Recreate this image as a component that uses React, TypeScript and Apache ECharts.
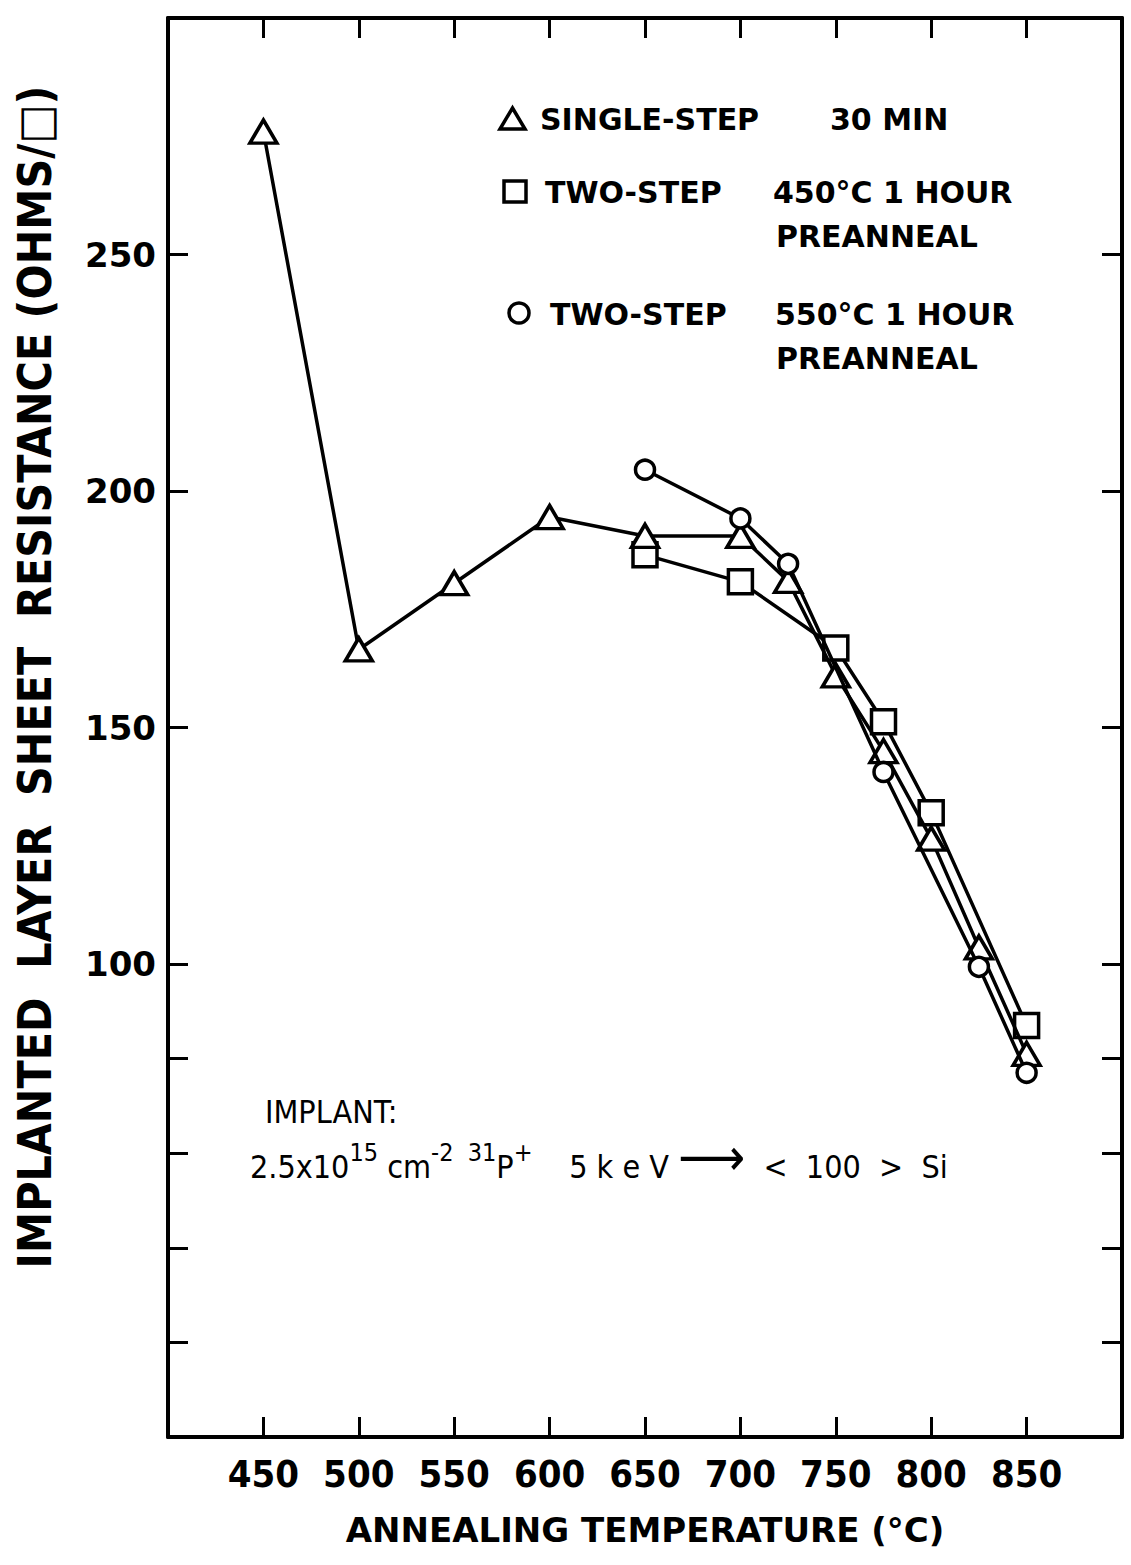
import React, { useEffect, useRef } from "react";
import * as echarts from "echarts";

// Annealing temperatures (°C) and implanted layer sheet resistance (ohms/square)
const singleStepTemps = [450, 500, 550, 600, 650, 700, 725, 750, 775, 800, 825, 850];
const singleStepOhms = [276, 166.5, 180.5, 194.5, 190.5, 190.5, 181, 161, 145, 126.5, 103.5, 81];

const preanneal450Temps = [650, 700, 750, 775, 800, 850];
const preanneal450Ohms = [186.5, 180.8, 166.8, 151.2, 132, 87];

const preanneal550Temps = [650, 700, 725, 775, 825, 850];
const preanneal550Ohms = [204.5, 194.2, 184.6, 140.6, 99.4, 77];

// Axis ticks
const yTickValues = [20, 40, 60, 80, 100, 150, 200, 250];
const yLabelValues = [100, 150, 200, 250];

const INK = "#000";
const FONT = '"DejaVu Sans", sans-serif';
const FONT_COND = '"DejaVu Sans Condensed", "DejaVu Sans", sans-serif';

const pairs = (xs: number[], ys: number[]) => xs.map((x, i) => [x, ys[i]]);

const markerStyle = { color: "#fff", borderColor: INK, borderWidth: 3.5 };
const lineStyle = { color: INK, width: 3.5 };

const frameAxisLine = { onZero: false, lineStyle: { color: INK, width: 4 } };
const frameTick = { inside: true, length: 20, lineStyle: { color: INK, width: 3 } };

export default function App() {
  const ref = useRef<HTMLDivElement>(null);

  useEffect(() => {
    document.body.style.margin = "0";
    if (!ref.current) return;
    const chart = echarts.init(ref.current, null, { renderer: "svg" });

    const legendText = (text: string, x: number, y: number) => ({
      type: "text",
      x,
      y,
      style: {
        text,
        fill: INK,
        font: `bold 30px ${FONT}`,
        align: "left",
        verticalAlign: "middle",
      },
    });

    const mainTok = {
      fontFamily: FONT_COND,
      fontSize: 32,
      lineHeight: 34,
      verticalAlign: "bottom",
      fill: INK,
    };
    const supTok = {
      fontFamily: FONT_COND,
      fontSize: 25,
      lineHeight: 25,
      padding: [0, 0, 18, 0],
      verticalAlign: "bottom",
      fill: INK,
    };

    chart.setOption({
      animation: false,
      backgroundColor: "#fff",
      grid: { left: 168, right: 9, top: 18, bottom: 128, containLabel: false },
      xAxis: [
        {
          type: "value",
          position: "bottom",
          min: 400,
          max: 900,
          interval: 50,
          name: "ANNEALING TEMPERATURE (°C)",
          nameLocation: "middle",
          nameGap: 76,
          nameTextStyle: { color: INK, fontFamily: FONT, fontWeight: "bold", fontSize: 34 },
          axisLine: frameAxisLine,
          axisTick: frameTick,
          axisLabel: {
            showMinLabel: false,
            showMaxLabel: false,
            margin: 18,
            color: INK,
            fontFamily: FONT_COND,
            fontWeight: "bold",
            fontSize: 38,
          },
          splitLine: { show: false },
        },
        {
          type: "value",
          position: "top",
          min: 400,
          max: 900,
          interval: 50,
          axisLine: frameAxisLine,
          axisTick: frameTick,
          axisLabel: { show: false },
          splitLine: { show: false },
        },
      ],
      yAxis: [
        {
          type: "value",
          position: "left",
          min: 0,
          max: 300,
          axisLine: frameAxisLine,
          axisTick: { ...frameTick, customValues: yTickValues },
          axisLabel: {
            customValues: yLabelValues,
            margin: 12,
            color: INK,
            fontFamily: FONT,
            fontWeight: "bold",
            fontSize: 34,
          },
          splitLine: { show: false },
        },
        {
          type: "value",
          position: "right",
          min: 0,
          max: 300,
          axisLine: frameAxisLine,
          axisTick: { ...frameTick, customValues: yTickValues },
          axisLabel: { show: false },
          splitLine: { show: false },
        },
      ],
      series: [
        {
          name: "SINGLE-STEP 30 MIN",
          type: "line",
          data: pairs(singleStepTemps, singleStepOhms),
          symbol: "triangle",
          symbolSize: [27, 23],
          showAllSymbol: true,
          lineStyle,
          itemStyle: markerStyle,
          z: 3,
        },
        {
          name: "TWO-STEP 450°C 1 HOUR PREANNEAL",
          type: "line",
          data: pairs(preanneal450Temps, preanneal450Ohms),
          symbol: "rect",
          symbolSize: 24,
          showAllSymbol: true,
          lineStyle,
          itemStyle: markerStyle,
          z: 2,
        },
        {
          name: "TWO-STEP 550°C 1 HOUR PREANNEAL",
          type: "line",
          data: pairs(preanneal550Temps, preanneal550Ohms),
          symbol: "circle",
          symbolSize: 19,
          showAllSymbol: true,
          lineStyle,
          itemStyle: markerStyle,
          z: 4,
        },
      ],
      graphic: [
        // vertical axis title
        {
          type: "text",
          x: 35,
          y: 677,
          rotation: Math.PI / 2,
          style: {
            text: "IMPLANTED  LAYER  SHEET  RESISTANCE (OHMS/□)",
            fill: INK,
            font: `bold 46px ${FONT_COND}`,
            align: "center",
            verticalAlign: "middle",
          },
        },
        // key
        {
          type: "polygon",
          shape: { points: [[500, 129], [525, 129], [512.5, 108]] },
          style: { fill: "#fff", stroke: INK, lineWidth: 3.5 },
        },
        legendText("SINGLE-STEP", 540, 119),
        legendText("30 MIN", 830, 119),
        {
          type: "rect",
          shape: { x: 504, y: 181, width: 22, height: 21 },
          style: { fill: "#fff", stroke: INK, lineWidth: 3.5 },
        },
        legendText("TWO-STEP", 545, 192),
        legendText("450°C 1 HOUR", 773, 192),
        legendText("PREANNEAL", 776, 236),
        {
          type: "circle",
          shape: { cx: 519, cy: 313, r: 10 },
          style: { fill: "#fff", stroke: INK, lineWidth: 3.5 },
        },
        legendText("TWO-STEP", 550, 314),
        legendText("550°C 1 HOUR", 775, 314),
        legendText("PREANNEAL", 776, 358),
        // implant conditions
        {
          type: "text",
          x: 265,
          y: 1112,
          style: {
            text: "IMPLANT:",
            fill: INK,
            font: `32px ${FONT_COND}`,
            align: "left",
            verticalAlign: "middle",
          },
        },
        {
          type: "text",
          x: 250,
          y: 1166,
          style: {
            text: "{m|2.5x10}{s|15}{m| cm}{s|-2  31}{m|P}{s|+}{m|    5 k e V }{a|⟶}{m|  <  100  >  Si}",
            fill: INK,
            align: "left",
            verticalAlign: "middle",
            rich: {
              m: mainTok,
              s: supTok,
              a: { ...mainTok, fontSize: 52, lineHeight: 34 },
            },
          },
        },
      ],
    });

    return () => chart.dispose();
  }, []);

  return <div ref={ref} style={{ width: 1131, height: 1565 }} />;
}
